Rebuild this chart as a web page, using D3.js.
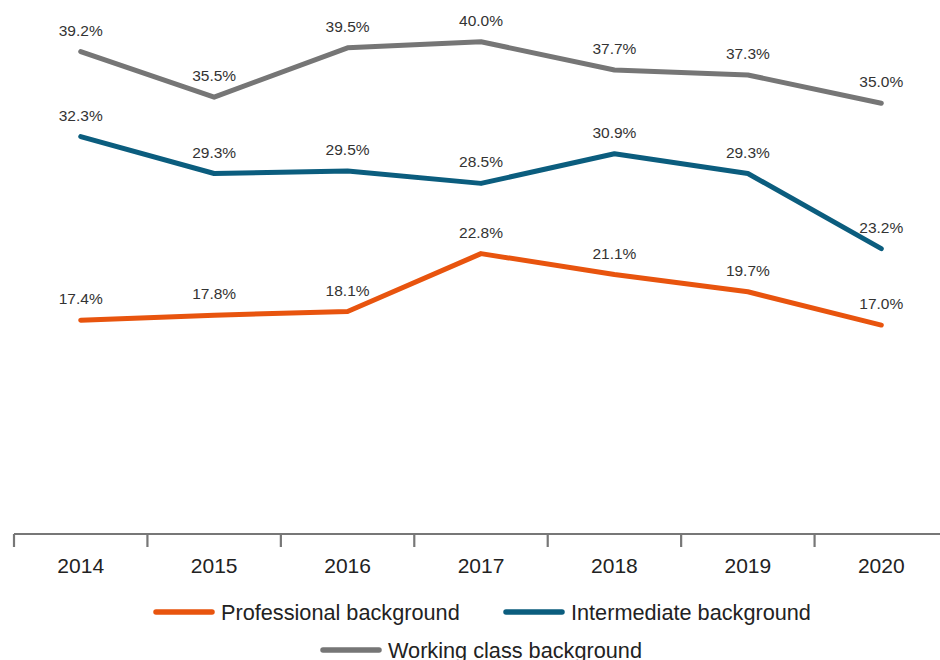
<!DOCTYPE html>
<html><head><meta charset="utf-8">
<script src="https://cdn.jsdelivr.net/npm/d3@7"></script>
<style>body{margin:0;background:#fff}svg{display:block}text{font-family:"Liberation Sans",Arial,sans-serif}</style>
</head><body>
<svg id="c" width="940" height="660"></svg>
<script>
const years = ["2014","2015","2016","2017","2018","2019","2020"];
const professional = [17.4,17.8,18.1,22.8,21.1,19.7,17.0];
const intermediate = [32.3,29.3,29.5,28.5,30.9,29.3,23.2];
const workingClass = [39.2,35.5,39.5,40.0,37.7,37.3,35.0];
const seriesNames = ["Professional background","Intermediate background","Working class background"];
const colors = ["#E8540E","#0B5D7E","#767676"];

const svg = d3.select("#c");
const x = d3.scaleBand().domain(years).range([14,948]).padding(0);
const y = d3.scaleLinear().domain([0,40]).range([534.5,41.7]);
const series = [professional, intermediate, workingClass];

// axis
const ax = svg.append("g").attr("transform","translate(0,534)");
ax.append("line").attr("x1",14).attr("x2",948).attr("stroke","#777").attr("stroke-width",2.2);
ax.selectAll("line.t").data(years).join("line").attr("class","t")
  .attr("x1",d=>x(d)).attr("x2",d=>x(d)).attr("y1",0).attr("y2",13)
  .attr("stroke","#777").attr("stroke-width",2.2);
ax.selectAll("text").data(years).join("text")
  .attr("x",d=>x(d)+x.bandwidth()/2).attr("y",39).attr("text-anchor","middle")
  .attr("font-size",21).attr("fill","#222").text(d=>d);

const line = d3.line().x((d,i)=>x(years[i])+x.bandwidth()/2).y(d=>y(d));
series.forEach((s,k)=>{
  svg.append("path").datum(s).attr("d",line).attr("fill","none")
    .attr("stroke",colors[k]).attr("stroke-width",5).attr("stroke-linecap","round").attr("stroke-linejoin","round");
  svg.selectAll(null).data(s).join("text")
    .attr("x",(d,i)=>x(years[i])+x.bandwidth()/2).attr("y",d=>y(d)-16)
    .attr("text-anchor","middle").attr("font-size",15.5).attr("fill","#333")
    .text(d=>d.toFixed(1)+"%");
});

// legend
const legendPos = [[153,612],[503,612],[320,650]];
seriesNames.forEach((n,k)=>{
  const [lx,ly] = legendPos[k];
  svg.append("line").attr("x1",lx+3).attr("x2",lx+59).attr("y1",ly).attr("y2",ly)
    .attr("stroke",colors[k]).attr("stroke-width",5.5).attr("stroke-linecap","round");
  svg.append("text").attr("x",lx+68).attr("y",ly+7.5).attr("font-size",21.7).attr("fill","#222").text(n);
});
</script>
</body></html>
